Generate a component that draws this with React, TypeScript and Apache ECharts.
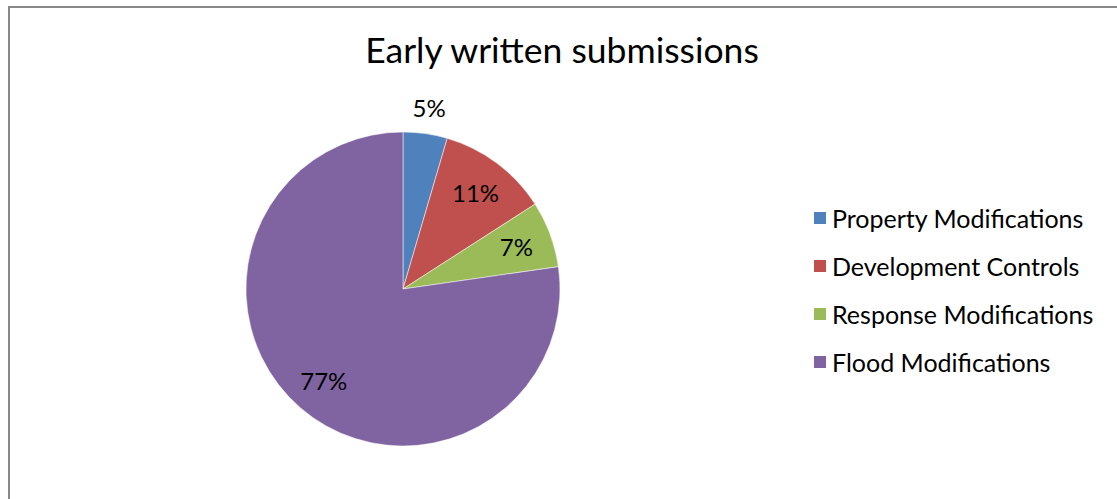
import React, { useEffect, useRef } from "react";
import * as echarts from "echarts";

const titleText = "Early written submissions";
const categories = [
  "Property Modifications",
  "Development Controls",
  "Response Modifications",
  "Flood Modifications",
];
const submissionCounts = [2, 5, 3, 34];
const sliceColors = ["#4F81BD", "#C0504D", "#9BBB59", "#8064A2"];

const FONT = "Lato";

export default function App() {
  const ref = useRef<HTMLDivElement>(null);
  useEffect(() => {
    if (!ref.current) return;
    const chart = echarts.init(ref.current, undefined, { renderer: "svg" });
    const data = categories.map((name, i) => ({ name, value: submissionCounts[i] }));
    const center = [403, 289];
    chart.setOption({
      animation: false,
      color: sliceColors,
      textStyle: { fontFamily: FONT },
      title: {
        text: titleText,
        left: 557,
        top: 26,
        textAlign: "center",
        textStyle: { fontFamily: FONT, fontSize: 35.5, fontWeight: "normal", color: "#000" },
      },
      legend: {
        orient: "vertical",
        left: 807,
        top: 199,
        itemWidth: 14,
        itemHeight: 14,
        itemGap: 20,
        icon: "rect",
        selectedMode: false,
        data: categories,
        textStyle: { fontFamily: FONT, fontSize: 25, color: "#000", lineHeight: 28 },
      },
      graphic: [
        {
          type: "rect",
          shape: { x: 9, y: 7, width: 1300, height: 700 },
          style: { fill: "none", stroke: "#888888", lineWidth: 2 },
          silent: true,
        },
      ],
      series: [
        {
          type: "pie",
          center,
          radius: [0, 157],
          startAngle: 90,
          clockwise: true,
          data,
          label: { show: false },
          labelLine: { show: false },
          itemStyle: { borderColor: "#ffffff", borderWidth: 0.5 },
          emphasis: { disabled: true },
          silent: true,
        },
        {
          type: "pie",
          center,
          radius: [79, 157],
          startAngle: 90,
          clockwise: true,
          percentPrecision: 0,
          data: data.map((d, i) => ({
            ...d,
            label: { show: i !== 0 },
          })),
          itemStyle: { color: "rgba(0,0,0,0)" },
          label: {
            show: true,
            position: "inside",
            formatter: "{d}%",
            fontFamily: FONT,
            fontSize: 24,
            color: "#000",
          },
          labelLine: { show: false },
          emphasis: { disabled: true },
          silent: true,
        },
        {
          type: "pie",
          center,
          radius: [157, 203],
          startAngle: 90,
          clockwise: true,
          percentPrecision: 0,
          data: data.map((d, i) => ({
            ...d,
            label: { show: i === 0 },
          })),
          itemStyle: { color: "rgba(0,0,0,0)" },
          label: {
            show: true,
            position: "inside",
            formatter: "{d}%",
            fontFamily: FONT,
            fontSize: 24,
            color: "#000",
          },
          labelLine: { show: false },
          emphasis: { disabled: true },
          silent: true,
        },
      ],
    });
    return () => chart.dispose();
  }, []);
  return (
    <div
      ref={ref}
      style={{ position: "fixed", left: 0, top: 0, width: 1117, height: 499, background: "#fff" }}
    />
  );
}
